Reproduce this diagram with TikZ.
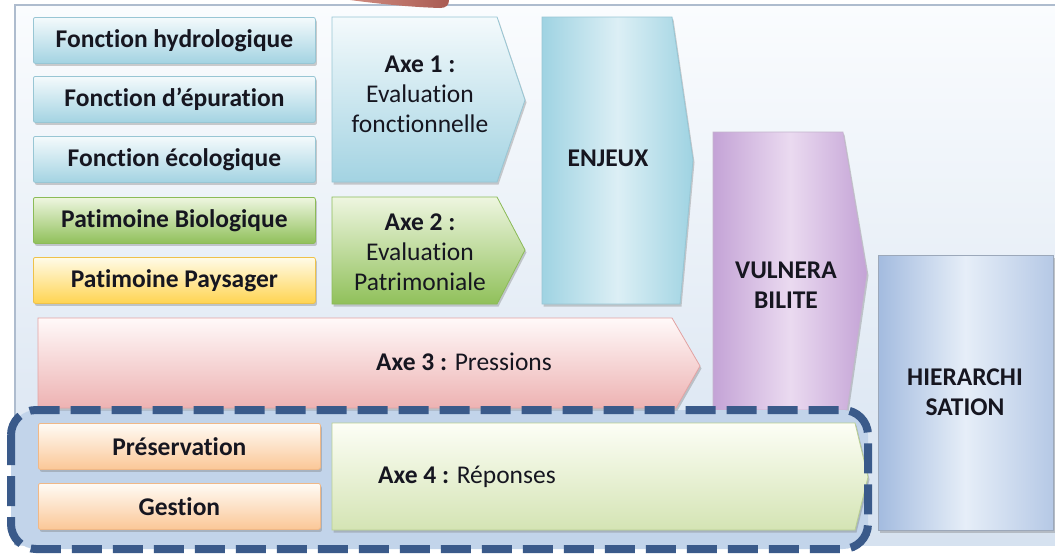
\documentclass[tikz,border=0pt]{standalone}
\usepackage{fontspec}
\setmainfont{Carlito}[Ligatures={NoCommon}]
\usetikzlibrary{shadows}
\definecolor{txt}{HTML}{161620}
\definecolor{panelTop}{HTML}{FAFCFE}
\definecolor{panelBot}{HTML}{D6E2F0}
\definecolor{panelEdge}{HTML}{AEBCCE}
\definecolor{dashBlue}{HTML}{3A5A8A}
\definecolor{dashFill}{HTML}{C2D4EA}
\definecolor{bluTop}{HTML}{F4FAFC}
\definecolor{bluBot}{HTML}{A3D3E2}
\definecolor{bluEdge}{HTML}{98C6D4}
\definecolor{grnTop}{HTML}{EEF6E0}
\definecolor{grnBot}{HTML}{90C05A}
\definecolor{grnEdge}{HTML}{8CBB58}
\definecolor{ylwTop}{HTML}{FFFBE8}
\definecolor{ylwBot}{HTML}{FFD451}
\definecolor{ylwEdge}{HTML}{EEC24A}
\definecolor{pnkTop}{HTML}{FFF9F9}
\definecolor{pnkBot}{HTML}{EDB2B2}
\definecolor{pnkEdge}{HTML}{E3A3A3}
\definecolor{orgTop}{HTML}{FFFBF5}
\definecolor{orgBot}{HTML}{FBC797}
\definecolor{orgEdge}{HTML}{F0B887}
\definecolor{limTop}{HTML}{FDFEF6}
\definecolor{limBot}{HTML}{D4E4B4}
\definecolor{limEdge}{HTML}{B9CF92}
\definecolor{cyaA}{HTML}{9FD3E2}
\definecolor{cyaB}{HTML}{DCEFF5}
\definecolor{lilA}{HTML}{C4A3D6}
\definecolor{lilB}{HTML}{EADAF0}
\definecolor{stlA}{HTML}{A3BBDF}
\definecolor{stlB}{HTML}{E6EEF8}
\definecolor{brownA}{HTML}{A95A52}
\definecolor{brownB}{HTML}{D08C80}
\tikzset{
  shad/.style={drop shadow={shadow xshift=1.5pt,shadow yshift=-2.5pt,opacity=0.35,fill=black!55}},
  lbl/.style={font=\fontsize{25.5}{30}\selectfont\bfseries, text=txt, align=center},
  lblr/.style={font=\fontsize{25.5}{30}\selectfont, text=txt, align=center},
  sbox/.style={shad, rounded corners=2pt, line width=0.8pt, anchor=north west,
     minimum width=282pt, minimum height=46pt, inner sep=0pt,
     font=\fontsize{25.5}{30}\selectfont\bfseries, text=txt},
  bluebox/.style={sbox, draw=bluEdge, top color=bluTop, bottom color=bluBot},
  greenbox/.style={sbox, draw=grnEdge, top color=grnTop, bottom color=grnBot},
  yellowbox/.style={sbox, draw=ylwEdge, top color=ylwTop, bottom color=ylwBot},
  orangebox/.style={sbox, draw=orgEdge, top color=orgTop, bottom color=orgBot},
}
\begin{document}
\begin{tikzpicture}[x=1pt,y=-1pt]
\useasboundingbox (0,0) rectangle (1055,557);
% background panel
\path[top color=panelTop, bottom color=panelBot] (15,5) rectangle (1055,545);
\draw[panelEdge, line width=1.5pt] (15,545) -- (15,5) -- (1055,5);
% brown shape at top
\path[left color=brownB, right color=brownA]
  (350,0) -- (449,0) .. controls (449,5) and (446,8) .. (440,8)
  .. controls (410,7) and (380,4) .. (350,0) -- cycle;
% vulnerabilite
\path[shad, draw=lilA!80!black!60, line width=0.6pt, left color=lilA, right color=lilA, middle color=lilB]
  (713,132) -- (843,132) -- (867,273) -- (847,410) -- (713,410) -- cycle;
\node[lbl] (vul) at (786,285) {VULNERA\\BILITE};
% hierarchisation
\path[shad, draw=stlA!70!black!70, line width=0.6pt, left color=stlA, right color=stlA!80, middle color=stlB]
  (878,255) rectangle (1053,530);
\node[lbl] (hie) at (965,392) {HIERARCHI\\SATION};
% dashed box fill
\path[fill=dashFill, rounded corners=25pt] (11,410) rectangle (868,549);
% left boxes
\node[bluebox] (fh) at (33,17) {Fonction hydrologique};
\node[bluebox] (fe) at (33,76) {Fonction d’épuration};
\node[bluebox] (fc) at (33,136) {Fonction écologique};
\node[greenbox] (pb) at (33,197) {Patimoine Biologique};
\node[yellowbox] (pp) at (33,257) {Patimoine Paysager};
% axe 1
\path[shad, draw=bluEdge, line width=0.8pt, top color=bluTop, bottom color=bluBot]
  (332,17) -- (497,17) -- (525,100) -- (497,182) -- (332,182) -- cycle;
\node[lbl] (a1) at (420,94) {Axe 1 :\\\mdseries Evaluation\\\mdseries fonctionnelle};
% axe 2
\path[shad, draw=grnEdge, line width=0.8pt, top color=grnTop, bottom color=grnBot]
  (332,197) -- (497,197) -- (525,250) -- (497,304) -- (332,304) -- cycle;
\node[lbl] (a2) at (420,252) {Axe 2 :\\\mdseries Evaluation\\\mdseries Patrimoniale};
% enjeux
\path[shad, draw=bluEdge, line width=0.8pt, left color=cyaA, right color=cyaA, middle color=cyaB]
  (542,17) -- (672,17) -- (693,160) -- (680,304) -- (542,304) -- cycle;
\node[lbl] (enj) at (608,158) {ENJEUX};
% axe 3
\path[shad, draw=pnkEdge, line width=0.8pt, top color=pnkTop, bottom color=pnkBot]
  (38,318) -- (672,318) -- (700,366) -- (676,408) -- (38,408) -- cycle;
\node[lblr] (a3) at (464,362) {\textbf{Axe 3 :} Pressions};
% preservation / gestion
\node[orangebox] (pr) at (38,423) {Préservation};
\node[orangebox] (ge) at (38,483) {Gestion};
% axe 4
\path[shad, draw=limEdge, line width=0.8pt, top color=limTop, bottom color=limBot]
  (332,423) -- (855,423) -- (868,477) -- (855,530) -- (332,530) -- cycle;
\node[lblr] (a4) at (467,477) {\textbf{Axe 4 :} Réponses};
% dashed outline
\draw[dashBlue, line width=8pt, dash pattern=on 30pt off 11pt, rounded corners=25pt]
  (11,410) rectangle (868,549);
\end{tikzpicture}
\end{document}
